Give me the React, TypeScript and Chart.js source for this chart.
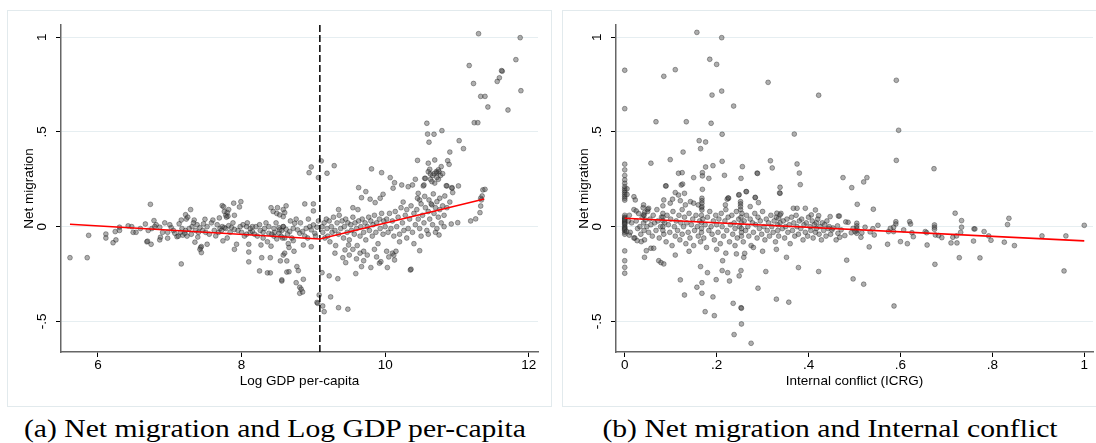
import { useEffect, useRef } from "react";
import { Chart, registerables } from "chart.js";
Chart.register(...registerables);

type P = [number, number];

// ---------- Panel (a): Net migration vs Log GDP per-capita ----------
const gdpLow: P[] = [
  [5.61,-0.164],[5.85,-0.164],[5.87,-0.046],[6.11,-0.039],[6.11,-0.06],[6.21,-0.085],[6.25,-0.07],[6.24,-0.026],
  [6.30,-0.003],[6.30,-0.02],[6.42,0.004],[6.47,0.0],[6.49,-0.03],[6.53,-0.03],[6.59,-0.01],[6.66,0.014],
  [6.68,-0.08],[6.69,-0.077],[6.74,-0.093],[6.73,0.118],[6.78,0.032],[6.81,0.01],[6.70,-0.02],[6.75,-0.01],
  [6.79,0.0],[6.86,-0.003],[6.87,-0.056],[6.86,-0.07],[6.90,-0.03],[6.97,-0.061],[6.97,-0.03],[7.02,-0.005],
  [7.05,-0.02],[7.10,-0.053],[7.12,-0.05],[7.16,-0.197],[7.16,0.035],[7.22,0.063],[7.23,0.04],[7.25,0.05],
  [7.29,0.09],[7.15,-0.03],[7.18,-0.045],[7.21,-0.035],[7.24,-0.05],[7.22,-0.02],[7.17,-0.01],[7.35,-0.082],
  [7.31,0.0],[7.36,-0.02],[7.38,0.01],[7.34,0.035],[7.40,-0.03],[7.42,-0.005],[7.43,-0.11],[7.44,-0.105],
  [7.42,-0.12],[7.44,-0.137],[7.49,0.039],[6.93,0.02],[7.0,0.01],[7.07,-0.035],[7.13,0.015],[7.27,-0.01],
  [7.3,-0.04],[7.33,0.02],[7.39,-0.055],[7.46,-0.02],[7.47,0.015],
];
const gdpMid: P[] = [
  [7.52,-0.093],[7.5,-0.03],[7.55,-0.04],[7.52,0.0],[7.58,0.02],[7.6,0.035],[7.64,-0.049],[7.69,0.046],
  [7.73,0.111],[7.75,0.105],[7.76,0.08],[7.78,0.06],[7.80,0.075],[7.82,0.09],[7.81,0.055],[7.79,0.05],
  [7.89,0.124],[7.99,0.132],[7.97,0.104],[7.9,0.06],[7.70,-0.01],[7.73,0.0],[7.76,-0.005],[7.78,-0.01],
  [7.82,0.005],[7.86,-0.005],[7.9,-0.015],[7.74,-0.075],[7.8,-0.06],[7.93,-0.093],[7.9,-0.12],[8.10,-0.093],
  [8.10,-0.134],[8.10,-0.186],[8.07,-0.04],[8.12,-0.03],[8.15,-0.025],[8.02,0.01],[8.07,0.0],[8.12,-0.01],
  [8.15,0.0],[8.25,-0.234],[8.28,-0.164],[8.27,-0.097],[8.36,-0.244],[8.40,-0.244],[8.40,-0.164],[8.41,-0.103],
  [8.41,0.1],[8.44,0.08],[8.49,0.07],[8.5,0.1],[8.58,0.09],[8.62,0.11],[8.54,-0.181],[8.56,-0.287],
  [8.58,-0.15],[8.60,-0.14],[8.63,-0.181],[8.63,-0.24],[8.45,-0.05],[8.49,-0.065],[8.55,-0.05],[8.6,-0.06],
  [8.3,-0.03],[8.38,-0.035],[8.46,-0.03],[8.2,0.0],[8.25,0.01],[8.32,-0.01],[8.38,0.0],[8.45,-0.01],
  [8.52,-0.005],[8.58,0.0],[7.62,-0.02],[7.66,0.01],[7.68,-0.03],[7.72,-0.02],[7.84,-0.03],[7.88,0.02],
  [7.95,-0.02],[7.98,0.0],[8.0,-0.03],[8.04,-0.05],[8.08,0.02],[8.18,-0.04],[8.22,-0.05],[8.26,-0.02],
  [8.3,-0.06],[8.34,0.02],[8.36,-0.08],[8.42,-0.04],[8.48,0.02],[8.52,-0.035],[8.56,-0.02],
  [8.56,-0.281],[8.66,-0.238],[8.77,-0.211],[8.79,-0.232],[8.76,-0.296],[8.81,-0.32],[8.83,-0.33],[8.81,-0.352],
  [8.85,-0.345],[8.86,-0.278],[8.57,-0.06],[8.65,-0.09],[8.7,-0.06],[8.73,-0.13],[8.66,-0.11],[8.88,0.12],
  [9.0,0.12],[9.0,0.083],[8.94,0.285],[8.97,0.315],[9.07,0.259],[9.11,0.347],[9.19,0.282],[9.29,0.322],
  [8.53,-0.017],[8.58,0.0],[8.62,-0.014],[8.67,-0.026],[8.72,-0.009],[8.74,0.018],[8.78,-0.017],[8.81,-0.035],
  [8.85,-0.026],[8.9,-0.009],[8.95,0.0],[8.97,-0.017],[9.0,0.009],[9.02,-0.035],[9.05,-0.003],[8.6,0.074],
  [8.58,0.053],[8.53,0.062],[8.72,-0.074],[8.86,-0.097],[8.97,-0.106],[9.05,-0.40],[9.06,-0.405],[9.08,-0.361],
  [9.13,-0.419],[9.15,-0.449],[8.68,0.03],[8.76,0.04],[8.82,0.02],[8.88,-0.05],[8.92,-0.06],[9.03,-0.05],
  [9.07,0.03],[8.64,-0.04],[8.93,0.04],
];
const gdpHigh: P[] = [
  [9.12,-0.243],[9.22,-0.26],[9.24,-0.371],[9.34,-0.275],[9.35,-0.428],[9.48,-0.436],[9.59,-0.248],[9.41,-0.164],
  [9.44,-0.123],[9.49,-0.097],[9.67,-0.211],[9.70,-0.18],[9.80,-0.216],[9.92,-0.193],[9.94,-0.185],[9.63,0.206],
  [9.73,0.185],[9.67,0.153],[9.79,0.145],[9.86,0.127],[9.93,0.15],[9.97,0.171],[9.81,0.305],[9.95,0.285],
  [9.12,0.0],[9.13,-0.03],[9.15,0.02],[9.16,-0.06],[9.18,0.04],[9.19,-0.01],[9.2,-0.05],[9.22,0.03],
  [9.23,-0.08],[9.25,0.0],[9.26,-0.03],[9.28,0.05],[9.3,-0.02],[9.31,-0.1],[9.33,0.02],[9.35,-0.04],
  [9.36,0.06],[9.38,-0.01],[9.4,0.03],[9.42,-0.06],[9.43,0.0],[9.45,0.04],[9.47,-0.03],[9.48,0.02],
  [9.5,-0.07],[9.52,0.01],[9.53,-0.02],[9.55,0.05],[9.57,-0.04],[9.58,0.02],[9.6,-0.01],[9.61,-0.1],
  [9.63,0.03],[9.65,-0.05],[9.66,0.0],[9.68,0.04],[9.7,-0.03],[9.72,0.02],[9.73,-0.07],[9.75,0.0],
  [9.77,0.05],[9.78,-0.02],[9.8,0.03],[9.82,-0.05],[9.83,0.01],[9.85,0.06],[9.87,-0.03],[9.88,0.02],
  [9.9,-0.09],[9.92,0.04],[9.93,-0.01],[9.95,0.07],[9.97,-0.04],[9.98,0.03],[9.3,-0.14],[9.5,-0.15],
  [9.55,-0.12],[9.6,-0.17],[9.7,-0.13],[9.75,-0.15],[9.85,-0.12],[9.88,-0.16],[9.45,-0.19],[9.65,-0.14],
  [9.35,0.09],[9.55,0.1],[9.62,0.09],
  [10.03,-0.216],[10.13,-0.176],[10.02,-0.13],[10.05,-0.16],[10.1,-0.14],[10.12,-0.15],[10.15,-0.13],[10.35,-0.229],
  [10.36,-0.225],[10.48,-0.127],[10.75,-0.044],[10.82,0.0],[10.92,0.014],[11.01,0.021],[11.19,0.03],[11.26,0.041],
  [11.32,0.074],[11.33,0.109],[11.35,0.162],[11.36,0.194],[11.34,0.141],[11.33,0.15],
  [10.07,0.259],[10.13,0.232],[10.11,0.203],[10.23,0.22],[10.32,0.211],[10.38,0.22],[10.42,0.25],[10.46,0.176],
  [10.48,0.141],[10.53,0.215],[10.55,0.255],[10.6,0.29],[10.63,0.25],[10.66,0.27],[10.69,0.23],[10.72,0.285],
  [10.75,0.29],[10.74,0.25],[10.86,0.215],[10.93,0.203],[11.02,0.215],[10.94,0.18],[10.83,0.162],[10.76,0.15],
  [10.72,0.132],[10.65,0.115],[10.61,0.141],[10.67,0.173],[10.45,0.35],[10.54,0.22],[10.56,0.255],[10.58,0.546],
  [10.59,0.489],[10.68,0.488],[10.61,0.446],[10.79,0.507],[10.6,0.335],[10.62,0.303],[10.63,0.278],[10.65,0.238],
  [10.69,0.352],[10.78,0.317],[10.68,0.28],[10.71,0.29],[10.74,0.3],[10.77,0.27],[10.72,0.26],[10.8,0.28],
  [10.87,0.348],[10.89,0.329],[10.9,0.394],[11.03,0.454],[11.09,0.412],[10.85,0.216],[10.93,0.206],[11.39,0.197],
  [10.0,0.0],[10.02,0.04],[10.04,-0.03],[10.06,0.07],[10.08,-0.01],[10.1,0.03],[10.12,-0.05],[10.14,0.08],
  [10.16,0.0],[10.18,0.05],[10.2,-0.04],[10.22,0.1],[10.24,0.02],[10.26,-0.02],[10.28,0.06],[10.3,0.09],
  [10.32,-0.01],[10.34,0.04],[10.36,0.11],[10.38,-0.03],[10.4,0.07],[10.42,0.01],[10.44,0.09],[10.46,0.04],
  [10.48,-0.01],[10.5,0.12],[10.52,0.06],[10.54,0.02],[10.56,0.1],[10.58,-0.02],[10.6,0.08],[10.62,0.04],
  [10.64,0.12],[10.66,0.01],[10.68,0.07],[10.7,0.1],[10.72,-0.01],[10.74,0.05],[10.76,0.09],[10.78,0.02],
  [10.8,0.11],[10.82,0.06],[10.86,0.1],[10.9,0.13],[10.2,-0.08],[10.3,-0.06],[10.4,-0.09],[10.5,-0.05],
  [10.6,-0.04],[10.7,-0.03],[10.25,0.13],[10.45,0.15],[10.55,0.16],
];
const gdpTop: P[] = [
  [11.30,1.019],[11.17,0.851],[11.23,0.756],[11.33,0.688],[11.39,0.688],[11.43,0.632],[11.24,0.549],[11.29,0.549],
  [11.63,0.821],[11.62,0.824],[11.59,0.786],[11.56,0.767],[11.71,0.616],[11.88,0.998],[11.82,0.882],[11.89,0.718],
];
const gdpFitX = [5.61, 9.09, 11.38];
const gdpFitY = [0.013, -0.065, 0.146];
const gdpThreshold = 9.09;
const gdpXTicks = [6, 8, 10, 12];
const gdpXLabels = ["6", "8", "10", "12"];

// ---------- Panel (b): Net migration vs Internal conflict ----------
const conflictZero: P[] = [
  [0,0.826],[0,0.623],[0,0.33],[0,0.3],[0,0.27],[0,0.247],[0,0.229],[0,0.211],[0,0.2],[0,0.19],[0,0.18],
  [0,0.17],[0,0.16],[0,0.15],[0,0.14],[0,0.06],[0,0.05],[0,0.04],[0,0.03],[0,0.02],[0,0.01],[0,0.0],
  [0,-0.01],[0,-0.02],[0,-0.03],[0,-0.04],[0,0.045],[0,0.025],[0,-0.005],[0,0.035],[0,0.015],[0,-0.015],
  [0,-0.128],[0,-0.18],[0,-0.215],[0,-0.246],[0.005,0.2],[0.005,0.17],[0.008,0.03],[0.004,-0.025],
];
const conflictBand: P[] = [
  [0.01,0.06],[0.012,-0.03],[0.015,0.02],[0.02,0.09],[0.022,-0.06],[0.025,0.03],[0.028,-0.01],[0.03,0.07],
  [0.033,0.0],[0.035,-0.04],[0.038,0.05],[0.04,0.1],[0.041,0.02],[0.042,-0.02],[0.042,0.06],[0.043,-0.07],
  [0.045,0.035],[0.048,0.0],[0.05,0.08],[0.052,-0.03],[0.055,0.04],[0.057,0.01],[0.06,-0.05],[0.062,0.06],
  [0.065,0.02],[0.068,-0.02],[0.07,0.09],[0.072,0.03],[0.075,-0.06],[0.078,0.0],[0.08,0.05],[0.083,0.11],
  [0.083,0.07],[0.083,0.03],[0.083,0.0],[0.083,-0.02],[0.083,0.05],[0.085,-0.04],[0.087,0.02],[0.09,-0.08],
  [0.092,0.06],[0.095,0.01],[0.098,-0.03],[0.1,0.04],[0.103,-0.1],[0.105,0.08],[0.108,0.0],[0.11,-0.05],
  [0.112,0.03],[0.115,-0.02],[0.118,0.06],[0.12,-0.07],[0.122,0.02],[0.125,0.09],[0.125,-0.04],[0.128,0.0],
  [0.13,0.05],[0.133,-0.09],[0.135,0.02],[0.138,-0.03],[0.14,0.07],[0.142,-0.06],[0.145,0.01],[0.148,0.04],
  [0.15,-0.1],[0.152,-0.02],[0.155,0.06],[0.158,0.0],[0.16,-0.05],[0.163,0.03],[0.165,-0.08],[0.167,0.1],
  [0.167,0.06],[0.167,0.02],[0.167,-0.01],[0.167,-0.03],[0.17,0.04],[0.172,-0.06],[0.175,0.01],[0.178,-0.11],
  [0.18,0.05],[0.183,-0.02],[0.185,0.08],[0.188,0.0],[0.19,-0.04],[0.193,0.03],[0.195,-0.07],[0.198,0.06],
  [0.2,0.01],[0.203,-0.03],[0.205,0.04],[0.208,-0.09],[0.21,0.07],[0.212,0.0],[0.215,-0.05],[0.218,0.03],
  [0.22,0.09],[0.222,-0.02],[0.225,0.05],[0.228,-0.08],[0.23,0.01],[0.233,0.06],[0.235,-0.04],[0.238,0.02],
  [0.24,-0.01],[0.243,0.08],[0.245,-0.06],[0.248,0.04],[0.25,0.0],[0.252,0.09],[0.253,0.05],[0.254,0.02],
  [0.254,-0.01],[0.254,-0.03],[0.254,-0.05],[0.255,0.07],[0.258,-0.08],[0.26,0.03],[0.263,-0.02],[0.265,0.06],
  [0.268,0.0],[0.27,-0.05],[0.273,0.04],[0.275,-0.1],[0.278,0.02],[0.28,-0.03],[0.283,0.07],[0.285,0.01],
  [0.288,-0.06],[0.29,0.05],[0.293,-0.01],[0.295,0.03],[0.298,-0.04],[0.3,0.08],[0.303,0.0],[0.305,-0.07],
  [0.308,0.04],[0.31,-0.02],[0.313,0.02],[0.315,-0.05],[0.318,0.06],[0.32,0.0],[0.323,-0.03],[0.325,0.03],
  [0.328,-0.08],[0.33,0.05],[0.333,0.01],[0.333,-0.02],[0.335,-0.05],[0.338,0.02],[0.34,0.07],[0.343,-0.01],
  [0.345,0.03],[0.348,-0.06],[0.35,0.0],[0.353,0.04],[0.355,-0.03],[0.358,0.01],[0.36,-0.09],[0.363,0.05],
  [0.365,-0.02],[0.368,0.02],[0.37,-0.05],[0.373,0.06],[0.375,0.0],[0.378,-0.04],[0.38,0.03],[0.383,-0.01],
  [0.385,0.04],[0.388,-0.07],[0.39,0.01],[0.393,-0.03],[0.395,0.02],[0.398,-0.05],[0.4,0.05],[0.403,0.0],
  [0.405,-0.02],[0.408,0.03],[0.41,-0.06],[0.413,0.01],[0.415,-0.03],[0.417,0.02],[0.417,-0.01],[0.42,0.04],
  [0.423,-0.04],[0.425,0.0],[0.428,-0.07],[0.43,0.02],[0.433,-0.02],[0.435,0.01],[0.438,-0.05],[0.44,0.03],
  [0.443,-0.01],[0.445,0.0],[0.448,-0.04],
  [0.264,0.185],[0.248,0.167],[0.226,0.15],[0.223,0.145],[0.219,0.115],[0.252,0.132],[0.252,0.12],[0.252,0.106],
  [0.273,0.106],[0.284,0.153],[0.291,0.127],[0.331,0.071],[0.338,0.062],[0.335,0.044],[0.338,0.176],[0.367,0.097],
  [0.375,0.097],[0.393,0.097],[0.415,0.088],[0.406,0.062],[0.422,0.058],[0.447,0.053],[0.465,0.056],[0.02,0.158],
  [0.023,0.141],[0.025,0.083],[0.041,0.115],[0.043,0.074],[0.05,0.092],[0.052,0.097],[0.041,0.062],
  [0.123,0.22],[0.13,0.176],[0.117,0.167],[0.11,0.18],[0.121,0.137],[0.132,0.115],[0.143,0.132],[0.15,0.124],
  [0.16,0.115],[0.168,0.15],[0.168,0.137],[0.168,0.124],[0.168,0.106],[0.168,0.088],[0.183,0.255],[0.104,0.145],
  [0.099,0.124],[0.085,0.141],
];
const conflictSparse: P[] = [
  [0.157,1.026],[0.211,0.998],[0.110,0.829],[0.085,0.794],[0.185,0.884],[0.2,0.857],[0.312,0.762],[0.422,0.694],
  [0.211,0.716],[0.19,0.695],[0.237,0.637],[0.068,0.554],[0.134,0.554],[0.188,0.546],[0.212,0.488],[0.369,0.489],
  [0.162,0.454],[0.176,0.447],[0.165,0.412],[0.127,0.394],[0.099,0.354],[0.057,0.335],[0.212,0.345],[0.317,0.348],
  [0.375,0.331],[0.192,0.322],[0.176,0.315],[0.256,0.317],[0.321,0.31],[0.117,0.282],[0.125,0.285],[0.169,0.285],
  [0.169,0.268],[0.217,0.271],[0.288,0.283],[0.289,0.281],[0.38,0.283],[0.15,0.259],[0.253,0.255],[0.089,0.215],
  [0.126,0.225],[0.338,0.208],[0.382,0.222],[0.169,0.197],[0.591,0.773],[0.596,0.509],[0.591,0.35],[0.673,0.306],
  [0.475,0.259],[0.494,0.206],[0.52,0.236],[0.527,0.259],[0.337,0.178],[0.265,0.185],[0.249,0.169],[0.284,0.155],
  [0.225,0.152],[0.09,0.215],
  [0.01,-0.045],[0.02,-0.06],[0.027,-0.074],[0.036,-0.079],[0.043,-0.162],[0.047,-0.127],[0.057,-0.114],[0.063,-0.114],
  [0.074,-0.18],[0.079,-0.19],[0.085,-0.197],[0.165,-0.211],[0.157,-0.32],[0.168,-0.296],[0.168,-0.352],[0.18,-0.243],
  [0.13,-0.361],[0.175,-0.449],[0.195,-0.47],[0.192,-0.371],[0.199,-0.28],[0.212,-0.232],[0.213,-0.18],[0.224,-0.243],
  [0.228,-0.287],[0.236,-0.405],[0.238,-0.57],[0.249,-0.26],[0.253,-0.232],[0.253,-0.428],[0.254,-0.431],[0.254,-0.514],
  [0.243,-0.144],[0.259,-0.162],[0.261,-0.141],[0.275,-0.616],[0.29,-0.325],[0.307,-0.237],[0.33,-0.383],[0.352,-0.162],
  [0.357,-0.399],[0.378,-0.216],[0.422,-0.237],[0.121,-0.281],[0.11,-0.15],[0.14,-0.13],[0.2,-0.12],[0.22,-0.14],
  [0.3,-0.13],[0.33,-0.12],[0.28,-0.11],[0.24,-0.1],
  [0.467,0.056],[0.719,0.071],[0.733,0.032],[0.836,0.044],[0.833,0.011],[0.483,-0.177],[0.675,-0.199],[0.728,-0.164],
  [0.773,-0.165],[0.497,-0.276],[0.52,-0.304],[0.586,-0.419],[0.532,-0.107],[0.572,-0.093],[0.6,-0.079],[0.615,-0.09],
  [0.658,-0.097],[0.71,-0.086],[0.723,-0.086],[0.759,-0.076],[0.797,-0.072],[0.826,-0.082],[0.848,-0.1],[0.908,-0.049],
  [0.96,-0.049],[0.782,-0.026],[0.792,-0.049],[0.76,-0.012],[0.762,-0.012],[0.733,-0.003],[0.731,-0.03],[0.714,-0.056],
  [0.722,-0.049],[0.674,0.009],[0.674,-0.003],[0.674,-0.014],[0.676,-0.044],[0.683,-0.047],[0.69,-0.058],[0.654,-0.026],
  [0.657,-0.032],[0.62,0.026],[0.622,0.014],[0.625,-0.032],[0.628,-0.053],[0.59,0.026],[0.59,0.014],[0.585,-0.003],
  [0.578,-0.009],[0.574,-0.026],[0.585,-0.026],[0.607,-0.017],[0.54,-0.011],[0.543,-0.044],[0.551,0.007],[0.534,-0.028],
  [0.523,-0.003],[0.505,0.018],[0.505,0.004],[0.505,-0.009],[0.505,-0.021],[0.505,-0.035],[0.501,-0.026],[0.497,-0.009],
  [0.516,-0.032],[0.514,-0.056],[0.493,-0.032],[0.486,0.023],[0.481,0.025],[0.479,-0.047],[0.471,-0.017],[0.463,0.004],
  [0.46,-0.07],[0.464,-0.035],[0.451,-0.017],[0.453,-0.007],[0.468,-0.056],[0.506,0.118],[0.541,0.092],[0.956,-0.234],
  [1.0,0.007],
];
const conflictFitX = [0, 1];
const conflictFitY = [0.044, -0.075];
const conflictXTicks = [0, 0.2, 0.4, 0.6, 0.8, 1];
const conflictXLabels = ["0", ".2", ".4", ".6", ".8", "1"];

// shared y axis
const yTicks = [-0.5, 0, 0.5, 1];
const yLabels = ["-.5", "0", ".5", "1"];
const yMin = -0.662;
const yMax = 1.065;

const SANS = "'Liberation Sans', Arial, sans-serif";
const FONT_SIZE = 13.5;

interface PanelProps {
  left: number;
  points: P[];
  fitX: number[];
  fitY: number[];
  xMin: number;
  xMax: number;
  xTicks: number[];
  xLabels: string[];
  xTitle: string;
  threshold?: number;
}

function Panel(props: PanelProps) {
  const ref = useRef<HTMLCanvasElement | null>(null);
  useEffect(() => {
    if (!ref.current) return;
    const { points, fitX, fitY, xMin, xMax, xTicks, xLabels, xTitle, threshold } = props;
    const datasets: any[] = [
      {
        data: points.map(([x, y]) => ({ x, y })),
        pointRadius: 2.4,
        pointBackgroundColor: "rgba(75,75,75,0.45)",
        pointBorderColor: "rgba(25,25,25,0.55)",
        pointBorderWidth: 0.7,
        showLine: false,
        order: 3,
      },
      {
        data: fitX.map((x, i) => ({ x, y: fitY[i] })),
        showLine: true,
        borderColor: "#ff0000",
        borderWidth: 1.6,
        pointRadius: 0,
        order: 1,
      },
    ];
    if (threshold !== undefined) {
      datasets.push({
        data: [{ x: threshold, y: yMin }, { x: threshold, y: yMax }],
        showLine: true,
        borderColor: "#000",
        borderWidth: 1.5,
        borderDash: [7, 3],
        pointRadius: 0,
        order: 2,
      });
    }
    const yLabelPlugin = {
      id: "rotYLabels",
      afterDraw(chart: any) {
        const ys = chart.scales.y;
        const ctx = chart.ctx;
        ctx.save();
        ctx.fillStyle = "#000";
        ctx.font = `${FONT_SIZE}px ${SANS}`;
        ctx.textAlign = "center";
        ctx.textBaseline = "middle";
        yTicks.forEach((v, i) => {
          const py = ys.getPixelForValue(v);
          ctx.save();
          ctx.translate(35, py);
          ctx.rotate(-Math.PI / 2);
          ctx.fillText(yLabels[i], 0, 0);
          ctx.restore();
        });
        ctx.restore();
      },
    };
    const chart = new Chart(ref.current, {
      type: "scatter",
      data: { datasets },
      options: {
        animation: false,
        responsive: false,
        maintainAspectRatio: false,
        layout: { padding: { top: 15, right: 14, left: 0, bottom: 0 } },
        plugins: { legend: { display: false }, tooltip: { enabled: false } },
        scales: {
          x: {
            type: "linear",
            min: xMin,
            max: xMax,
            afterBuildTicks: (s: any) => {
              s.ticks = xTicks.map((v) => ({ value: v }));
            },
            afterFit: (s: any) => {
              s.height = 55;
            },
            ticks: {
              color: "#000",
              font: { family: SANS, size: FONT_SIZE },
              padding: 0,
              maxRotation: 0,
              autoSkip: false,
              callback: (v: any) => {
                const i = xTicks.findIndex((t) => Math.abs(t - Number(v)) < 1e-9);
                return i >= 0 ? xLabels[i] : "";
              },
            },
            grid: { drawOnChartArea: false, tickLength: 5, tickColor: "#000", tickWidth: 1 },
            border: { color: "#666", width: 1.5 },
            title: {
              display: true,
              text: xTitle,
              color: "#000",
              font: { family: SANS, size: FONT_SIZE },
              padding: { top: 0, bottom: 18 },
            },
          },
          y: {
            type: "linear",
            min: yMin,
            max: yMax,
            afterBuildTicks: (s: any) => {
              s.ticks = yTicks.map((v) => ({ value: v }));
            },
            afterFit: (s: any) => {
              s.width = 54;
            },
            ticks: { display: false },
            grid: { color: "#e6eef1", lineWidth: 1, tickLength: 5, tickColor: "#000", tickWidth: 1 },
            border: { color: "#666", width: 1.5 },
            title: {
              display: true,
              text: "Net migration",
              color: "#000",
              font: { family: SANS, size: FONT_SIZE },
              padding: { top: 14, bottom: 0 },
            },
          },
        },
      } as any,
      plugins: [yLabelPlugin],
    });
    return () => chart.destroy();
  }, []);
  return (
    <>
      <div
        style={{
          position: "absolute",
          left: props.left,
          top: 10,
          width: 545,
          height: 397,
          boxSizing: "border-box",
          border: "1px solid #e2eaed",
        }}
      />
      <canvas
        ref={ref}
        width={545}
        height={397}
        style={{ position: "absolute", left: props.left, top: 10, width: 545, height: 397 }}
      />
    </>
  );
}

const captionStyle = (center: number): any => ({
  position: "absolute",
  left: center - 300,
  width: 600,
  top: 414,
  textAlign: "center",
  fontFamily: "'Liberation Serif', 'Times New Roman', serif",
  fontSize: 26,
  lineHeight: "30px",
  color: "#000",
  whiteSpace: "nowrap",
  transform: "scaleX(1.14)",
  transformOrigin: "center",
});

export default function App() {
  return (
    <div
      style={{
        position: "fixed",
        left: 0,
        top: 0,
        width: 1096,
        height: 443,
        overflow: "hidden",
        background: "#fff",
      }}
    >
      <Panel
        left={7}
        points={[...gdpLow, ...gdpMid, ...gdpHigh, ...gdpTop]}
        fitX={gdpFitX}
        fitY={gdpFitY}
        xMin={5.485}
        xMax={12.128}
        xTicks={gdpXTicks}
        xLabels={gdpXLabels}
        xTitle="Log GDP per-capita"
        threshold={gdpThreshold}
      />
      <Panel
        left={562}
        points={[...conflictZero, ...conflictBand, ...conflictSparse]}
        fitX={conflictFitX}
        fitY={conflictFitY}
        xMin={-0.019}
        xMax={1.019}
        xTicks={conflictXTicks}
        xLabels={conflictXLabels}
        xTitle="Internal conflict (ICRG)"
      />
      <div style={captionStyle(274.7)}>(a) Net migration and Log GDP per-capita</div>
      <div style={captionStyle(829.5)}>(b) Net migration and Internal conflict</div>
    </div>
  );
}
